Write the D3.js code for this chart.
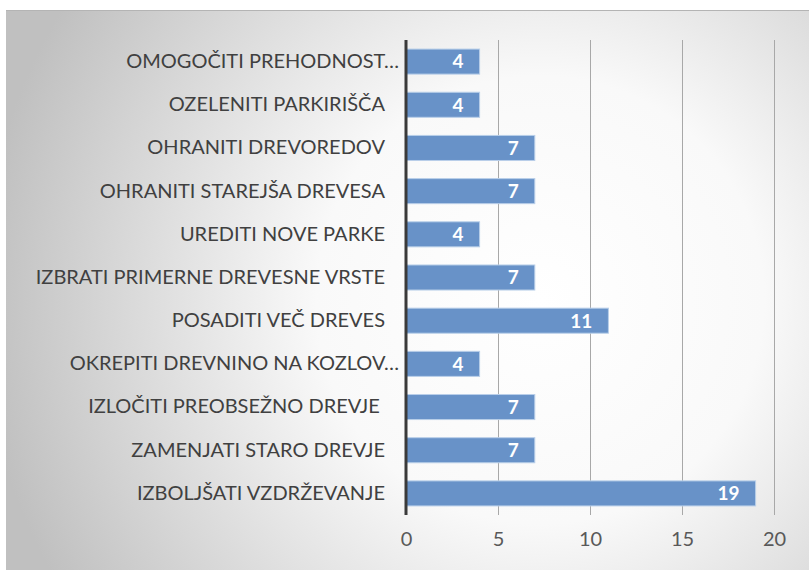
<!DOCTYPE html>
<html>
<head>
<meta charset="utf-8">
<script src="https://cdn.jsdelivr.net/npm/d3@7"></script>
<style>
  body { margin: 0; background: #fff; }
  text { white-space: pre; }
</style>
</head>
<body>
<div id="chart"></div>
<script>
// categories top to bottom, as shown
const categories = [
  "OMOGOČITI PREHODNOST…",
  "OZELENITI PARKIRIŠČA",
  "OHRANITI DREVOREDOV",
  "OHRANITI STAREJŠA DREVESA",
  "UREDITI NOVE PARKE",
  "IZBRATI PRIMERNE DREVESNE VRSTE",
  "POSADITI VEČ DREVES",
  "OKREPITI DREVNINO NA KOZLOV…",
  "IZLOČITI PREOBSEŽNO DREVJE ",
  "ZAMENJATI STARO DREVJE",
  "IZBOLJŠATI VZDRŽEVANJE"
]
const values = [4, 4, 7, 7, 4, 7, 11, 4, 7, 7, 19]
const xTicks = [0, 5, 10, 15, 20]

const width = 809
const height = 572
const plot = { left: 406, right: 774, top: 40, bottom: 515 }

const svg = d3.select('#chart')
  .append('svg')
  .attr('width', width)
  .attr('height', height)

// background panel with soft radial gradient
const defs = svg.append('defs')
const grad = defs.append('radialGradient')
  .attr('id', 'bg')
  .attr('gradientUnits', 'userSpaceOnUse')
  .attr('cx', 540).attr('cy', 300).attr('r', 560)
grad.append('stop').attr('offset', '0%').attr('stop-color', '#ffffff')
grad.append('stop').attr('offset', '40%').attr('stop-color', '#f9f9f9')
grad.append('stop').attr('offset', '100%').attr('stop-color', '#c0c0c0')

svg.append('rect')
  .attr('x', 6).attr('y', 10)
  .attr('width', width - 6).attr('height', 560)
  .attr('fill', 'url(#bg)')
svg.append('line')
  .attr('x1', 6).attr('x2', width)
  .attr('y1', 10.5).attr('y2', 10.5)
  .attr('stroke', '#b4b4b4')

const x = d3.scaleLinear()
  .domain([0, 20])
  .range([plot.left, plot.right])

const y = d3.scaleBand()
  .domain(categories)
  .range([plot.top, plot.bottom])
  .paddingInner(0.42)
  .paddingOuter(0.21)

// vertical gridlines
svg.append('g')
  .selectAll('line')
  .data(xTicks.filter(d => d > 0))
  .enter()
  .append('line')
  .attr('x1', d => Math.round(x(d)) + 0.5)
  .attr('x2', d => Math.round(x(d)) + 0.5)
  .attr('y1', plot.top)
  .attr('y2', plot.bottom)
  .attr('stroke', '#a8a8a8')
  .attr('stroke-width', 1)

// x axis tick labels
const xAxis = d3.axisBottom(x)
  .tickValues(xTicks)
  .tickSize(0)
  .tickPadding(0)
const gx = svg.append('g')
  .attr('transform', `translate(0, 532)`)
  .call(xAxis)
gx.select('.domain').remove()
gx.selectAll('text')
  .attr('dy', '0.71em')
  .style('font-family', 'Lato, "Open Sans", sans-serif')
  .style('font-size', '20px')
  .attr('fill', '#595959')

// bars
svg.append('g')
  .selectAll('rect')
  .data(values)
  .enter()
  .append('rect')
  .attr('x', x(0))
  .attr('y', (d, i) => y(categories[i]))
  .attr('width', d => x(d) - x(0))
  .attr('height', y.bandwidth())
  .attr('fill', '#6892c8')
  .attr('stroke', '#b9cfe9')
  .attr('stroke-width', 1)

// value labels inside bar ends
svg.append('g')
  .selectAll('text')
  .data(values)
  .enter()
  .append('text')
  .attr('x', d => x(d) - 16)
  .attr('y', (d, i) => y(categories[i]) + y.bandwidth() / 2)
  .attr('dy', '0.36em')
  .attr('text-anchor', 'end')
  .attr('fill', '#ffffff')
  .style('font-family', 'Lato, "Open Sans", sans-serif')
  .style('font-weight', 'bold')
  .style('font-size', '19px')
  .text(d => d)

// category labels (truncated ones run a bit closer to the axis)
const yAxis = d3.axisLeft(y).tickSize(0).tickPadding(21)
const gy = svg.append('g')
  .attr('transform', `translate(${plot.left}, 0)`)
  .call(yAxis)
gy.select('.domain').remove()
gy.selectAll('text')
  .attr('dx', d => d.endsWith('…') ? 14 : 0)
  .style('font-family', 'Lato, "Open Sans", sans-serif')
  .style('font-size', '20px')
  .attr('fill', '#404040')

// zero line
svg.append('line')
  .attr('x1', x(0)).attr('x2', x(0))
  .attr('y1', plot.top).attr('y2', plot.bottom)
  .attr('stroke', '#3a3a3a')
  .attr('stroke-width', 3)
</script>
</body>
</html>
